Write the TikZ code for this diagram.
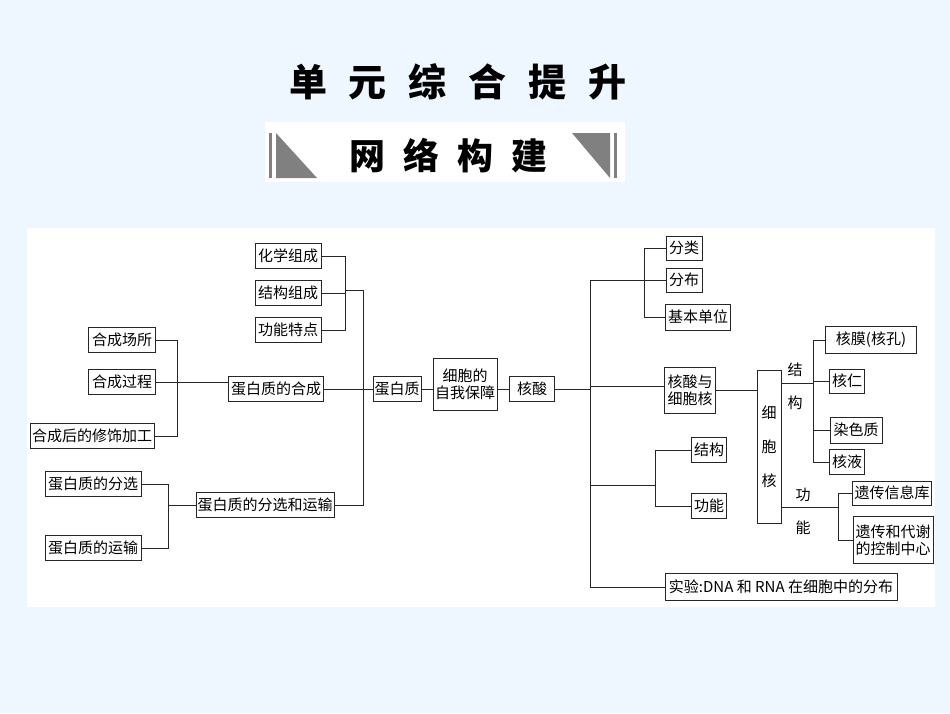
\documentclass[tikz,border=0pt]{standalone}
\usepackage{fontspec}
\setmainfont{Noto Sans CJK SC}
\definecolor{bgc}{RGB}{238,246,255}
\begin{document}
\begin{tikzpicture}[x=1pt,y=-1pt,
  bx/.style={draw=black!85,line width=1pt,fill=white,inner sep=1pt,font=\fontsize{15}{17}\selectfont,minimum height=25},
  ln/.style={draw=black!85,line width=0.9pt},
  lbl/.style={font=\fontsize{15}{17}\selectfont}]
\fill[bgc] (0,0) rectangle (950,713);
\useasboundingbox (0,0) rectangle (950,713);
\fill[white] (27,228) rectangle (935,607);
% title
\node[font=\fontsize{38}{42}\selectfont\bfseries] (title) at (458,82) {单\hspace{22pt}元\hspace{22pt}综\hspace{22pt}合\hspace{22pt}提\hspace{22pt}升};
\fill[white] (265,122) rectangle (625,182);
\fill[gray] (269,133) rectangle (272,178);
\fill[gray] (276,133) -- (276,178) -- (317,178) -- cycle;
\fill[gray] (617,133) rectangle (614,178);
\fill[gray] (610,133) -- (610,178) -- (572,133) -- cycle;
\node[font=\fontsize{36}{40}\selectfont\bfseries] (banner) at (448,156) {网\hspace{18pt}络\hspace{18pt}构\hspace{18pt}建};
% left
\node[bx,minimum width=66] (hx) at (288,256) {化学组成};
\node[bx,minimum width=66] (jg) at (288,293) {结构组成};
\node[bx,minimum width=66] (gn) at (288,330) {功能特点};
\node[bx,minimum width=48] (dbz) at (397,389) {蛋白质};
\node[bx,minimum width=95] (hc) at (276,389) {蛋白质的合成};
\node[bx,minimum width=138] (fx) at (265,505) {蛋白质的分选和运输};
\node[bx,minimum width=67] (cs) at (122,340) {合成场所};
\node[bx,minimum width=67] (gc) at (122,382) {合成过程};
\node[bx,minimum width=124] (xs) at (92,436) {合成后的修饰加工};
\node[bx,minimum width=96] (fxa) at (93,484) {蛋白质的分选};
\node[bx,minimum width=96] (ys) at (93,548) {蛋白质的运输};
\node[bx,minimum width=64,minimum height=52,align=center] (zw) at (465,384) {细胞的\\自我保障};
\node[bx,minimum width=45] (hs) at (532,389) {核酸};
\draw[ln] (hx.east) -| (345,330) -- (gn.east);
\draw[ln] (jg.east) -- (345,293);
\draw[ln] (345,290) -| (363,505) -- (fx.east);
\draw[ln] (hc.east) -- (dbz.west);
\draw[ln] (cs.east) -| (177,436) -- (xs.east);
\draw[ln] (gc.east) -- (hc.west |- gc.east);
\draw[ln] (fxa.east) -| (168,548) -- (ys.east);
\draw[ln] (168,505) -- (fx.west);
\draw[ln] (dbz.east) -- (zw.west |- dbz.east);
\draw[ln] (zw.east |- hs.west) -- (hs.west);
% right
\node[bx,minimum width=36,minimum height=24] (fl) at (684,248) {分类};
\node[bx,minimum width=36,minimum height=24] (fb) at (684,280) {分布};
\node[bx,minimum width=65,minimum height=26] (jb) at (698,317) {基本单位};
\node[bx,minimum width=51,minimum height=46,align=center] (hxb) at (690,390) {核酸与\\细胞核};
\node[bx,minimum width=24,minimum height=153,align=center,font=\fontsize{15}{34}\selectfont] (xbh) at (769,447) {细\\胞\\核};
\node[lbl] (t1) at (795,370) {结};
\node[lbl] (t2) at (795,403) {构};
\node[lbl] (t3) at (803,495) {功};
\node[lbl] (t4) at (803,528) {能};
\node[bx,minimum width=91,minimum height=27] (hm) at (871,340) {核膜(核孔)};
\node[bx,minimum width=35,minimum height=24] (hr) at (847,381) {核仁};
\node[bx,minimum width=52,minimum height=26] (rs) at (856,430) {染色质};
\node[bx,minimum width=35,minimum height=25] (hy) at (847,462) {核液};
\node[bx,minimum width=79,minimum height=24] (yx) at (892,493) {遗传信息库};
\node[bx,minimum width=80,minimum height=47,align=center] (kz) at (893,540) {遗传和代谢\\的控制中心};
\node[bx,minimum width=35,minimum height=25] (jg2) at (709,450) {结构};
\node[bx,minimum width=35,minimum height=25] (gn2) at (709,506) {功能};
\node[bx,minimum width=232,minimum height=27] (sy) at (781,587) {实验:DNA 和 RNA 在细胞中的分布};
\draw[ln] (hs.east) -- (590,389);
\draw[ln] (590,280) -- (590,587) -- (sy.west);
\draw[ln] (590,280) -- (fb.west);
\draw[ln] (fl.west) -| (644,317) -- (jb.west);
\draw[ln] (590,386) -- (hxb.west |- 590,386);
\draw[ln] (hxb.east) -- (xbh.west |- hxb.east);
\draw[ln] (xbh.east |- 0,383) -- (813,383);
\draw[ln] (hm.west) -| (813,462) -- (hy.west);
\draw[ln] (813,381) -- (hr.west);
\draw[ln] (813,430) -- (rs.west);
\draw[ln] (xbh.east |- 0,507) -- (838,507);
\draw[ln] (yx.west) -| (838,540) -- (kz.west);
\draw[ln] (590,485) -- (655,485);
\draw[ln] (jg2.west) -| (655,506) -- (gn2.west);
\end{tikzpicture}
\end{document}
